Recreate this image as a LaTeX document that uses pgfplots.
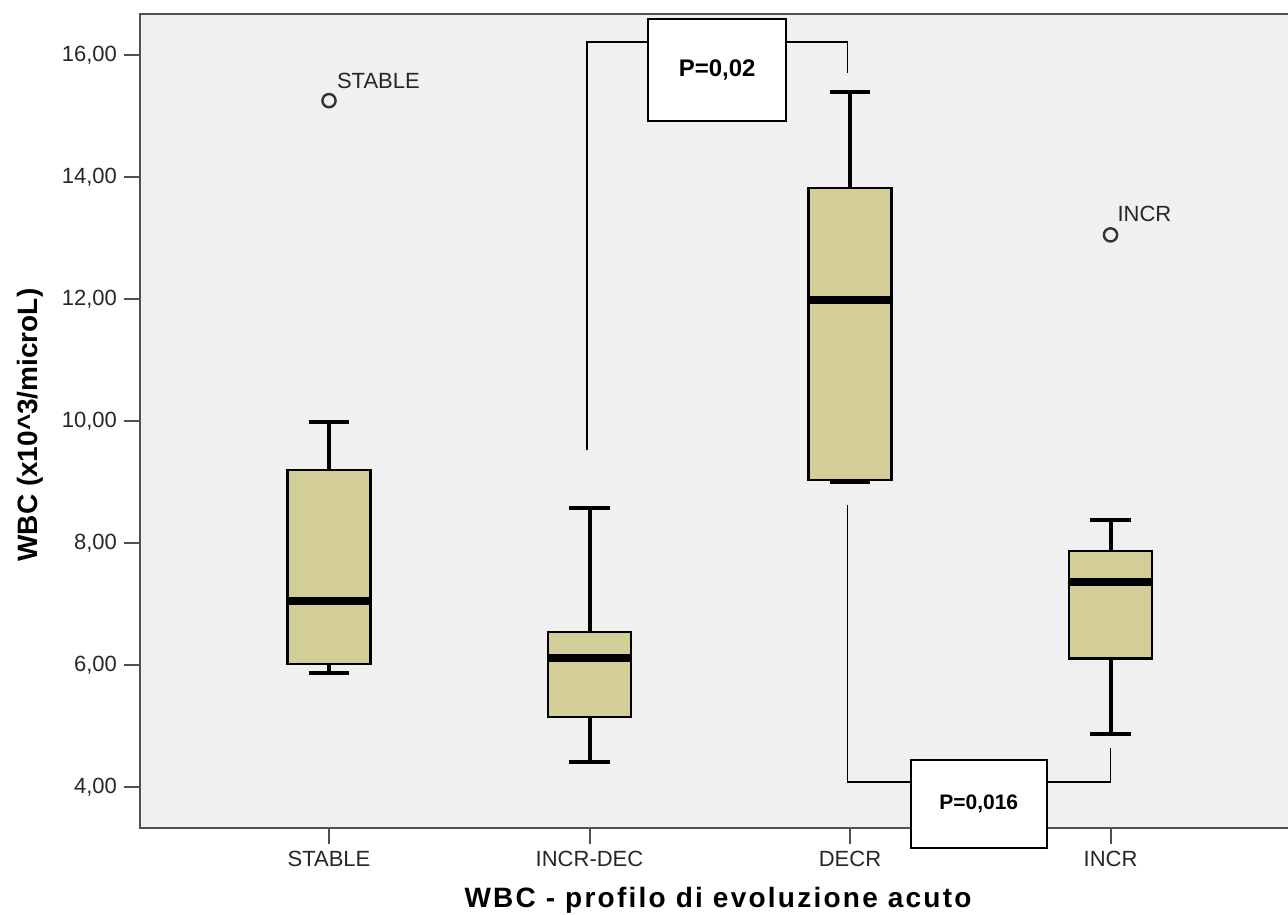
\documentclass[border=0pt]{standalone}
\usepackage{pgfplots}
\pgfplotsset{compat=1.18}
\usepackage{fontspec}
\setmainfont{Liberation Sans}
\definecolor{boxfill}{RGB}{211,206,152}
\definecolor{bggray}{RGB}{240,240,240}
\definecolor{axgray}{RGB}{80,80,80}
\begin{document}
\begin{tikzpicture}
\begin{axis}[
  scale only axis,
  width=578pt, height=407pt,
  xmin=-0.7255, xmax=3.712,
  ymin=3.33, ymax=16.67,
  clip=false,
  axis background/.style={fill=bggray},
  axis line style={axgray, line width=1pt},
  tick style={axgray, line width=1pt},
  tick align=outside,
  major tick length=8pt,
  xtick={0,1,2,3},
  xticklabels={STABLE,INCR-DEC,DECR,INCR},
  ytick={4,6,8,10,12,14,16},
  xtick pos=bottom, ytick pos=left,
  /pgf/number format/assume math mode=true,
  yticklabel style={/pgf/number format/.cd, fixed, fixed zerofill, precision=2, use comma},
  ticklabel style={font=\fontsize{11}{13}\selectfont, text=black!85},
  xlabel={WBC - profilo di evoluzione acuto},
  ylabel={WBC (x10\textasciicircum 3/microL)},
  every axis x label/.style={at={(rel axis cs:0.5,0)}, anchor=center, yshift=-36pt, font=\fontsize{14}{16}\selectfont\bfseries\addfontfeature{LetterSpace=8}},
  every axis y label/.style={at={(rel axis cs:0,0.495)}, anchor=center, rotate=90, yshift=55pt, font=\fontsize{14}{16}\selectfont\bfseries},
  whisk/.style={black, line width=2pt, no markers, line cap=butt},
  bx/.style={draw=black, fill=boxfill, line width=1.3pt, no markers},
  med/.style={black, line width=4pt, no markers, line cap=butt},
]
% ---------- STABLE (x=0): lw 5.87, q1 6.02, med 7.05, q3 9.20, uw 9.98
\addplot[whisk] coordinates {(0,9.20) (0,9.98)};
\addplot[whisk] coordinates {(0,5.87) (0,6.02)};
\addplot[bx] coordinates {(-0.1595,6.02) (0.1595,6.02) (0.1595,9.20) (-0.1595,9.20)} -- cycle;
\addplot[med] coordinates {(-0.1595,7.05) (0.1595,7.05)};
\addplot[whisk] coordinates {(-0.0785,9.98) (0.0785,9.98)};
\addplot[whisk] coordinates {(-0.0785,5.87) (0.0785,5.87)};
% ---------- INCR-DEC (x=1): lw 4.41, q1 5.15, med 6.11, q3 6.54, uw 8.57
\addplot[whisk] coordinates {(1,6.54) (1,8.57)};
\addplot[whisk] coordinates {(1,4.41) (1,5.15)};
\addplot[bx] coordinates {(0.8405,5.15) (1.1595,5.15) (1.1595,6.54) (0.8405,6.54)} -- cycle;
\addplot[med] coordinates {(0.8405,6.11) (1.1595,6.11)};
\addplot[whisk] coordinates {(0.9215,8.57) (1.0785,8.57)};
\addplot[whisk] coordinates {(0.9215,4.41) (1.0785,4.41)};
% ---------- DECR (x=2): lw 9.00, q1 9.03, med 11.98, q3 13.82, uw 15.39
\addplot[whisk] coordinates {(2,13.82) (2,15.39)};
\addplot[whisk] coordinates {(1.9215,9.00) (2.0785,9.00)};
\addplot[bx] coordinates {(1.8405,9.03) (2.1595,9.03) (2.1595,13.82) (1.8405,13.82)} -- cycle;
\addplot[med] coordinates {(1.8405,11.98) (2.1595,11.98)};
\addplot[whisk] coordinates {(1.9215,15.39) (2.0785,15.39)};
% ---------- INCR (x=3): lw 4.87, q1 6.11, med 7.36, q3 7.87, uw 8.38
\addplot[whisk] coordinates {(3,7.87) (3,8.38)};
\addplot[whisk] coordinates {(3,4.87) (3,6.11)};
\addplot[bx] coordinates {(2.8405,6.11) (3.1595,6.11) (3.1595,7.87) (2.8405,7.87)} -- cycle;
\addplot[med] coordinates {(2.8405,7.36) (3.1595,7.36)};
\addplot[whisk] coordinates {(2.9215,8.38) (3.0785,8.38)};
\addplot[whisk] coordinates {(2.9215,4.87) (3.0785,4.87)};
% ---------- outliers
\addplot[only marks, mark=o, mark size=3.3pt, mark options={line width=1.2pt, draw=black!80}] coordinates {(0,15.25) (3,13.05)};
% outlier labels
\node[anchor=base west, font=\fontsize{11}{13}\selectfont, text=black!85, xshift=0.5pt, yshift=6pt] at (axis cs:0,15.25) {STABLE};
\node[anchor=base west, font=\fontsize{11}{13}\selectfont, text=black!85, xshift=0pt, yshift=6.5pt] at (axis cs:3,13.05) {INCR};
% significance brackets
\draw[black, line width=0.9pt] (axis cs:0.99,9.52) -- (axis cs:0.99,16.21) -- (axis cs:1.99,16.21) -- (axis cs:1.99,15.70);
\draw[black, line width=0.9pt, fill=white] (axis cs:1.226,14.92) rectangle (axis cs:1.755,16.59);
\node[font=\fontsize{12}{14}\selectfont\bfseries] at (axis cs:1.49,15.75) {P=0,02};
\draw[black, line width=0.9pt] (axis cs:1.99,8.62) -- (axis cs:1.99,4.08) -- (axis cs:3.0,4.08) -- (axis cs:3.0,4.64);
\draw[black, line width=0.9pt, fill=white] (axis cs:2.234,3.0) rectangle (axis cs:2.755,4.44);
\node[font=\fontsize{10.5}{12}\selectfont\bfseries] at (axis cs:2.494,3.72) {P=0,016};
\coordinate (bl) at (rel axis cs:0,0);
\coordinate (tr) at (rel axis cs:1,1);
\end{axis}
\pgfresetboundingbox
\path[use as bounding box] ([xshift=-70pt,yshift=-43pt]bl) rectangle ([xshift=-4pt,yshift=7pt]tr);
\end{tikzpicture}
\end{document}
